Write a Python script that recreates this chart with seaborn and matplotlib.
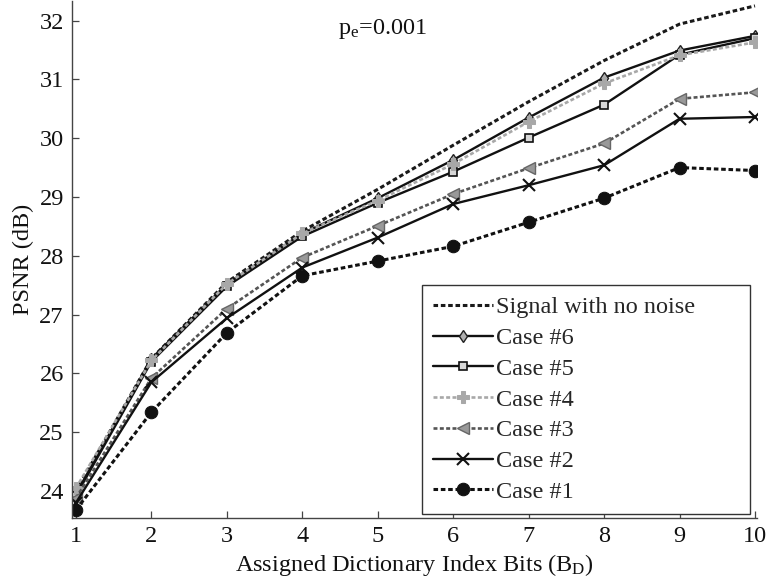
import matplotlib
matplotlib.use("Agg")
import matplotlib.pyplot as plt
import seaborn as sns
import pandas as pd

# Dictionary index bits on the x axis
bits = [1, 2, 3, 4, 5, 6, 7, 8, 9, 10]

# PSNR (dB) for each configuration
signal_no_noise = [24.00, 26.25, 27.55, 28.42, 29.13, 29.88, 30.62, 31.32, 31.94, 32.25]
case6 = [23.95, 26.25, 27.52, 28.38, 28.98, 29.63, 30.35, 31.03, 31.49, 31.74]
case5 = [23.92, 26.20, 27.48, 28.33, 28.90, 29.43, 30.01, 30.57, 31.42, 31.70]
case4 = [24.05, 26.22, 27.52, 28.38, 28.94, 29.56, 30.28, 30.93, 31.41, 31.63]
case3 = [23.88, 25.92, 27.10, 27.97, 28.51, 29.05, 29.49, 29.91, 30.67, 30.78]
case2 = [23.80, 25.85, 26.94, 27.80, 28.31, 28.88, 29.20, 29.54, 30.33, 30.36]
case1 = [23.68, 25.34, 26.69, 27.66, 27.91, 28.16, 28.57, 28.98, 29.50, 29.45]

labels = ["Signal with no noise", "Case #6", "Case #5", "Case #4",
          "Case #3", "Case #2", "Case #1"]
series = [signal_no_noise, case6, case5, case4, case3, case2, case1]

dotted = (0, (1.5, 0.9))
styles = [
    dict(color="#1a1a1a", linestyle=dotted, linewidth=2.2, marker=None),
    dict(color="#111111", linestyle="-", linewidth=1.7, marker="d", markersize=6,
         markerfacecolor="#b0b0b0", markeredgecolor="#222222", markeredgewidth=1.0),
    dict(color="#111111", linestyle="-", linewidth=1.7, marker="s", markersize=6,
         markerfacecolor="#d8d8d8", markeredgecolor="#111111", markeredgewidth=1.2),
    dict(color="#a8a8a8", linestyle=dotted, linewidth=1.9, marker="P", markersize=9,
         markerfacecolor="#a8a8a8", markeredgecolor="#a8a8a8"),
    dict(color="#555555", linestyle=dotted, linewidth=1.9, marker="<", markersize=8,
         markerfacecolor="#999999", markeredgecolor="#666666", markeredgewidth=1.0),
    dict(color="#111111", linestyle="-", linewidth=1.7, marker="x", markersize=9,
         markeredgecolor="#111111", markeredgewidth=1.5),
    dict(color="#111111", linestyle=dotted, linewidth=2.2, marker="o", markersize=9,
         markerfacecolor="#111111", markeredgecolor="#111111"),
]

sns.set_theme(style="ticks")
plt.rcParams["font.family"] = ["Liberation Serif", "DejaVu Serif"]
plt.rcParams["mathtext.fontset"] = "custom"
plt.rcParams["mathtext.rm"] = "Liberation Serif"
plt.rcParams["mathtext.it"] = "Liberation Serif:italic"

FS = 17.5

fig = plt.figure(figsize=(7.68, 5.86), dpi=100)
ax = fig.add_axes([0.094, 0.116, 0.892, 0.882])

for lab, vals, st in zip(labels, series, styles):
    df = pd.DataFrame({"bits": bits, "psnr": vals})
    sns.lineplot(data=df, x="bits", y="psnr", ax=ax, label=lab, **st)

ax.set_xlim(0.95, 10.03)
ax.set_ylim(23.54, 32.33)
ax.set_xticks(bits)
ax.set_yticks([24, 25, 26, 27, 28, 29, 30, 31, 32])

for side in ("top", "right"):
    ax.spines[side].set_visible(False)
for side in ("left", "bottom"):
    ax.spines[side].set_color("#444444")
    ax.spines[side].set_linewidth(1.0)

ax.tick_params(direction="in", length=5, width=0.9, color="#444444",
               labelsize=FS, colors="#111111", pad=6)

ax.set_xlabel(r"Assigned Dictionary Index Bits (B$_\mathrm{D}$)", fontsize=FS,
              color="#111111", labelpad=3)
ax.set_ylabel("PSNR (dB)", fontsize=FS, color="#111111", labelpad=4)

ax.text(4.47, 31.86, r"p$_\mathrm{e}$=0.001", fontsize=FS, color="#111111",
        va="center", ha="left")

leg = ax.legend(loc="lower left", bbox_to_anchor=(0.511, 0.008, 0.479, 0.4),
                mode="expand", fontsize=FS, frameon=True, fancybox=False,
                edgecolor="#333333", handlelength=2.45, labelspacing=0.36,
                borderpad=0.45, handletextpad=0.15, borderaxespad=0.0)
leg.get_frame().set_linewidth(1.0)
leg.get_frame().set_alpha(1.0)

fig.savefig("out.png", dpi=100, facecolor="white")
